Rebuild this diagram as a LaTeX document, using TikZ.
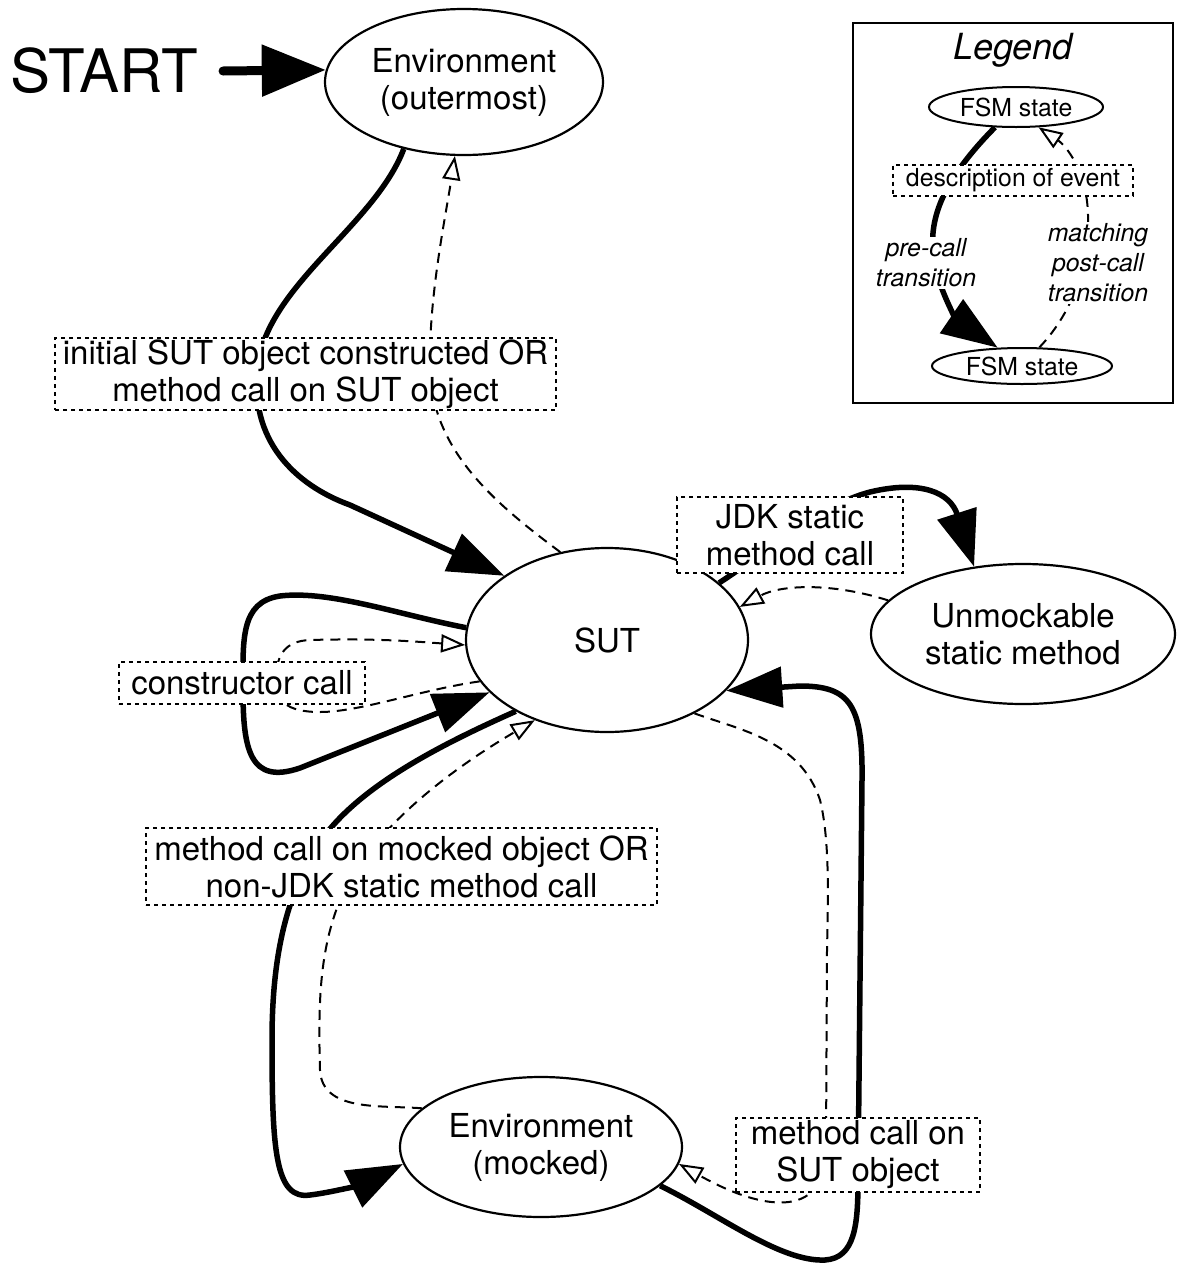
\documentclass[tikz,border=0pt]{standalone}
\usepackage{fontspec}
\setmainfont{TeX Gyre Heros}
\usetikzlibrary{shapes.geometric,arrows.meta,backgrounds}
\newcommand\mfs{\fontsize{33}{37}\selectfont}
\newcommand\lfs{\fontsize{24.8}{30}\selectfont}
\begin{document}
\begin{tikzpicture}[x=1pt,y=-1pt,
  state/.style={ellipse,draw,line width=2.2pt,fill=white,inner sep=0pt,font=\mfs,align=center},
  evt/.style={rectangle,draw,line width=2pt,dash pattern=on 4pt off 4pt,fill=white,inner sep=0pt,font=\mfs,align=center},
  pre/.style={line width=5.5pt,-{Triangle[length=56pt,width=40pt]}},
  post/.style={line width=2pt,dash pattern=on 10pt off 7pt,-{Triangle[open,length=24pt,width=18pt,fill=white,line width=2pt]}},
  lbl/.style={font=\itshape\lfs,fill=white,align=center,inner sep=2pt}]
\useasboundingbox (0,0) rectangle (1178,1267);

% states
\node[font=\fontsize{60}{60}\selectfont, inner sep=0pt] (start) at (104,71) {START};
\node[state, minimum width=278pt, minimum height=146pt] (env) at (464,82) {Environment\\(outermost)};
\node[state, minimum width=282pt, minimum height=184pt] (sut) at (607,640) {SUT};
\node[state, minimum width=304pt, minimum height=140pt] (unm) at (1023,634) {Unmockable\\static method};
\node[state, minimum width=282pt, minimum height=140pt] (mock) at (541,1147) {Environment\\(mocked)};

% event labels
\node[evt, minimum width=501pt, minimum height=72pt] (l1) at (305.5,374) {initial SUT object constructed OR\\method call on SUT object};
\node[evt, minimum width=226pt, minimum height=76pt] (l2) at (790,535) {JDK static\\method call};
\node[evt, minimum width=246pt, minimum height=42pt] (l3) at (242,683) {constructor call};
\node[evt, minimum width=511pt, minimum height=77pt] (l4) at (401.5,866.5) {method call on mocked object OR\\non-JDK static method call};
\node[evt, minimum width=244pt, minimum height=74pt] (l5) at (858,1155) {method call on\\SUT object};

% legend
\node[draw, line width=2.5pt, minimum width=320pt, minimum height=380pt, inner sep=0pt] (lg) at (1013,213) {};
\node[font=\itshape\fontsize{36}{40}\selectfont] (lgt) at (1013,50) {Legend};
\node[state, font=\lfs, line width=2pt, minimum width=174pt, minimum height=40pt] (f1) at (1016,107) {FSM state};
\node[evt, font=\lfs, minimum width=240pt, minimum height=31pt] (dsc) at (1013,180) {description of event};
\node[state, font=\lfs, line width=2pt, minimum width=180pt, minimum height=36pt] (f2) at (1022,366) {FSM state};
\node[lbl] (pc) at (926,263) {pre-call\\transition};
\node[lbl] (mp) at (1098,263) {matching\\post-call\\transition};

\begin{scope}[on background layer]
% start
\draw[line width=9pt, line cap=round, -{Triangle[length=64pt,width=50pt]}] ([xshift=25pt]start.east) -- (env.175);
% env <-> sut
\draw[pre] (env.228) .. controls (375,225) and (268,285) .. (258,365) .. controls (248,440) and (295,485) .. (350,505) -- (sut.148);
\draw[post] (sut.118) .. controls (490,500) and (435,450) .. (430,374) .. controls (428,300) and (445,220) .. (env.263);
% sut <-> unmockable
\draw[pre] (sut.27) .. controls (770,550) and (820,505) .. (870,492) .. controls (920,480) and (950,492) .. (unm.126);
\draw[post] (unm.166) .. controls (830,582) and (780,585) .. (sut.14);
% constructor loop
\draw[pre] (sut.175) .. controls (400,615) and (330,590) .. (280,596) .. controls (240,602) and (243,640) .. (243,690) .. controls (243,750) and (250,785) .. (300,768) -- (sut.204);
\draw[post] (sut.198) .. controls (420,690) and (360,712) .. (320,712) .. controls (285,712) and (276,700) .. (276,680) .. controls (276,655) and (285,641) .. (310,640) .. controls (380,638) and (420,642) .. (sut.182);
% sut <-> mocked (left)
\draw[pre] (sut.218) .. controls (440,745) and (350,790) .. (315,850) .. controls (285,900) and (272,960) .. (272,1040) .. controls (272,1150) and (275,1200) .. (310,1195) .. controls (335,1192) and (365,1183) .. (mock.187);
\draw[post] (mock.162) .. controls (380,1105) and (322,1112) .. (320,1070) .. controls (318,1000) and (320,950) .. (340,900) .. controls (370,830) and (450,770) .. (sut.228);
% mocked <-> sut (right)
\draw[pre] (mock.342) .. controls (720,1215) and (780,1262) .. (825,1260) .. controls (855,1258) and (858,1225) .. (858,1180) -- (862,780) .. controls (863,705) and (850,686) .. (800,686) -- (sut.337);
\draw[post] (sut.320) .. controls (740,730) and (800,740) .. (820,800) .. controls (830,840) and (828,900) .. (827,950) -- (826,1150) .. controls (826,1215) and (770,1215) .. (mock.353);
% legend edges
\draw[pre] (f1.224) .. controls (945,178) and (930,215) .. (933,250) .. controls (936,290) and (960,322) .. (f2.143);
\draw[post] (f2.47) .. controls (1075,310) and (1090,260) .. (1088,215) .. controls (1087,170) and (1065,145) .. (f1.318);
\end{scope}
\end{tikzpicture}
\end{document}
